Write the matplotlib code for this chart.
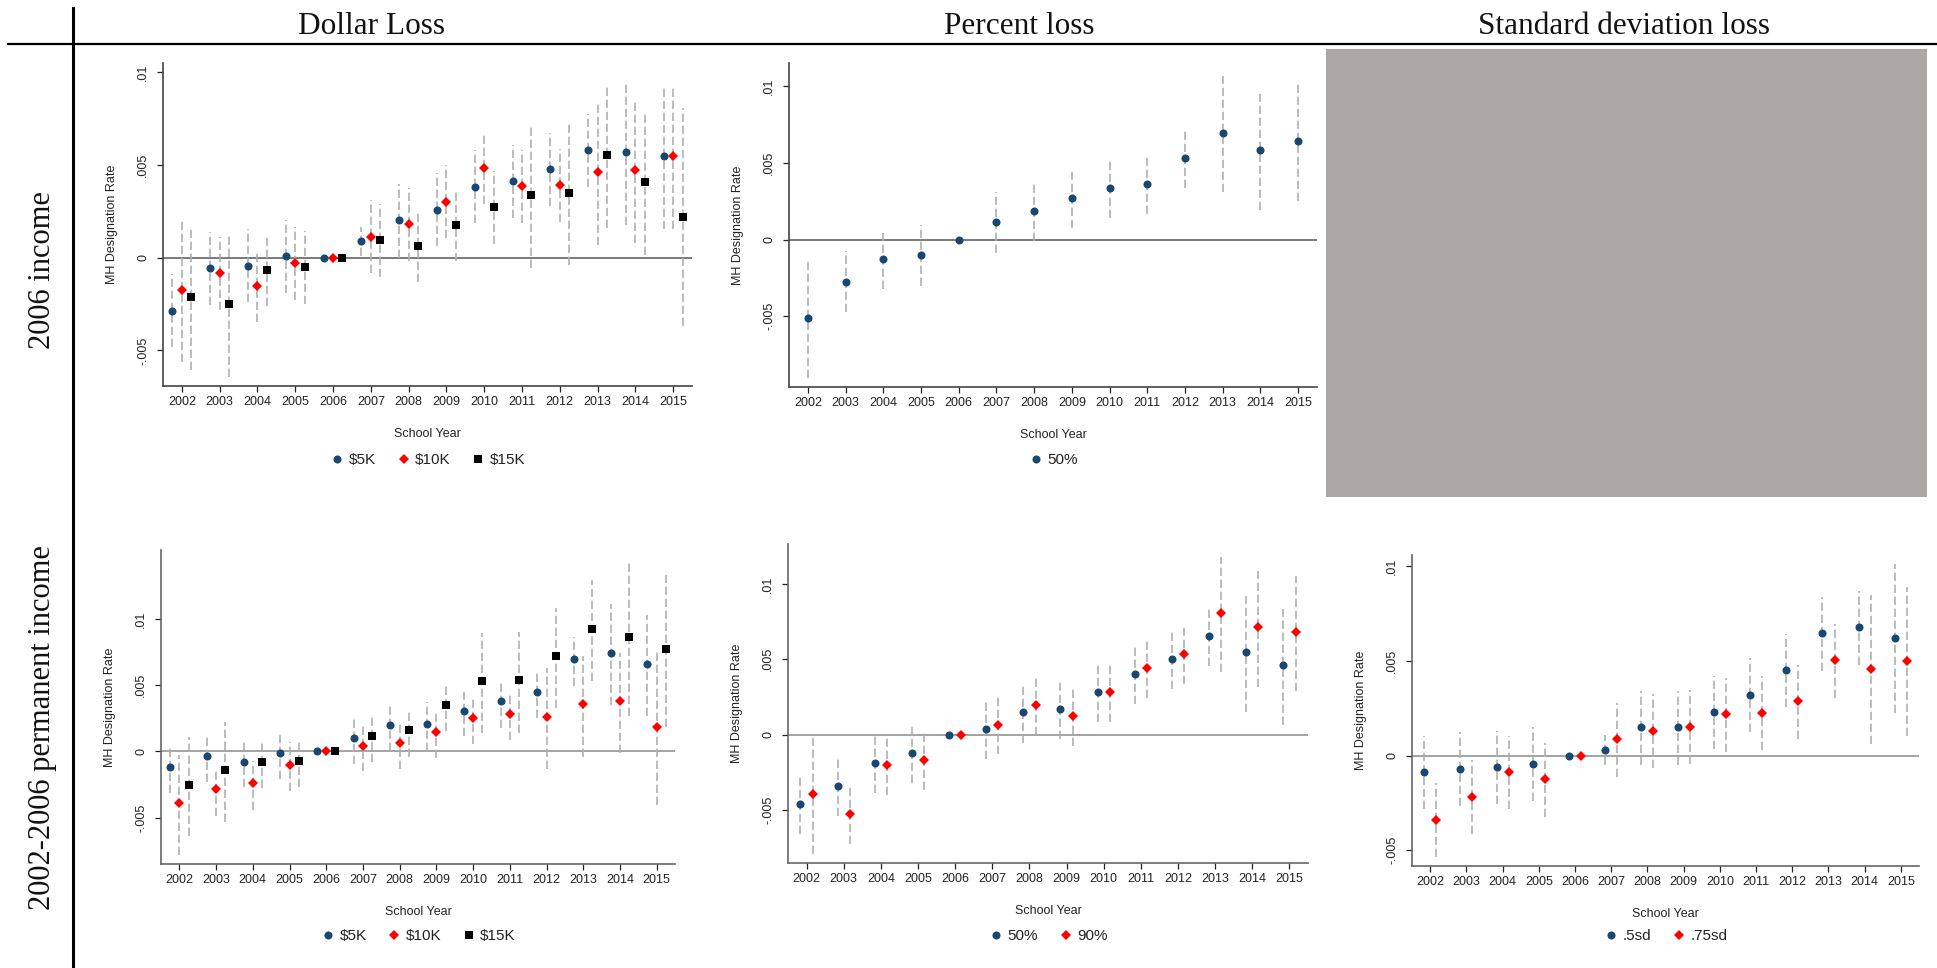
import matplotlib
matplotlib.use("Agg")
import matplotlib.pyplot as plt
from matplotlib.lines import Line2D
import numpy as np

years = list(range(2002, 2016))
year_labels = [str(y) for y in years]
ytick_vals = [-0.005, 0, 0.005, 0.01]
ytick_labels = ["-.005", "0", ".005", ".01"]

col_titles = ["Dollar Loss", "Percent loss", "Standard deviation loss"]
row_titles = ["2006 income", "2002-2006 permanent income"]

# Panel A: 2006 income, dollar loss
a_5k = [-0.00288, -0.00056, -0.00043, 0.00007, 0, 0.0009, 0.00201, 0.00259, 0.00383, 0.00412, 0.00478, 0.00579, 0.00568, 0.00549]
a_5k_lo = [-0.00484, -0.00255, -0.0024, -0.0019, 0, 0.0001, 0.0, 0.00061, 0.00187, 0.00216, 0.00281, 0.00383, 0.00176, 0.00155]
a_5k_hi = [-0.0009, 0.0014, 0.00155, 0.00205, 0, 0.00167, 0.00397, 0.00457, 0.00581, 0.00608, 0.00673, 0.00775, 0.00951, 0.00932]
a_10k = [-0.00173, -0.00083, -0.00155, -0.00031, 0, 0.00113, 0.0018, 0.00302, 0.00486, 0.00387, 0.0039, 0.00462, 0.00473, 0.00549]
a_10k_lo = [-0.00565, -0.0028, -0.00349, -0.00227, 0, -0.00083, -0.00016, 0.00106, 0.0029, 0.00189, 0.00192, 0.0007, 0.00081, 0.00155]
a_10k_hi = [0.00209, 0.0011, 0.00041, 0.00164, 0, 0.00311, 0.00376, 0.005, 0.0068, 0.00583, 0.00586, 0.00845, 0.00856, 0.00932]
a_15k = [-0.00214, -0.00252, -0.00067, -0.00052, 0, 0.00094, 0.00061, 0.00176, 0.00272, 0.00336, 0.00351, 0.00554, 0.00408, 0.00218]
a_15k_lo = [-0.00604, -0.00644, -0.00263, -0.00248, 0, -0.00104, -0.00133, -0.0002, 0.00074, -0.00058, -0.0004, 0.00162, 0.00016, -0.00367]
a_15k_hi = [0.00169, 0.00133, 0.00128, 0.00144, 0, 0.0029, 0.00255, 0.00371, 0.00468, 0.00716, 0.00734, 0.00939, 0.00791, 0.00806]

# Panel B: 2006 income, percent loss
b_50 = [-0.00509, -0.00274, -0.00126, -0.00104, 0, 0.00111, 0.00185, 0.0027, 0.00337, 0.00359, 0.00528, 0.00696, 0.0058, 0.00643]
b_50_lo = [-0.009, -0.0047, -0.0032, -0.00302, 0, -0.00085, -0.0001, 0.00072, 0.00141, 0.00163, 0.00333, 0.00307, 0.00189, 0.00252]
b_50_hi = [-0.00135, -0.00076, 0.00067, 0.00093, 0, 0.00307, 0.0038, 0.00465, 0.00533, 0.00554, 0.00724, 0.01065, 0.0095, 0.01015]

# Panel C: permanent income, dollar loss
c_5k = [-0.00118, -0.00033, -0.00078, -0.00008, 0, 0.00098, 0.00201, 0.00206, 0.00309, 0.00377, 0.0045, 0.00696, 0.00746, 0.00663]
c_5k_lo = [-0.00314, -0.00229, -0.00271, -0.00204, 0, -0.00098, 0.00005, 0.00005, 0.00113, 0.00176, 0.00251, 0.00497, 0.00354, 0.00269]
c_5k_hi = [0.00043, 0.00133, 0.00088, 0.00158, 0, 0.00264, 0.00369, 0.00372, 0.00475, 0.0054, 0.00616, 0.00862, 0.01111, 0.0103]
c_10k = [-0.00389, -0.00286, -0.00241, -0.001, 0, 0.00043, 0.00063, 0.00146, 0.00251, 0.00281, 0.00261, 0.00359, 0.00382, 0.00188]
c_10k_lo = [-0.00779, -0.00485, -0.0044, -0.00296, 0, -0.00151, -0.00133, -0.00053, 0.00053, 0.00083, -0.00131, -0.00038, -0.00008, -0.00402]
c_10k_hi = [-0.00025, -0.00121, -0.00075, 0.00068, 0, 0.00209, 0.00229, 0.00312, 0.00417, 0.00445, 0.00626, 0.00721, 0.00746, 0.00749]
c_15k = [-0.00254, -0.00138, -0.0008, -0.00073, 0, 0.00113, 0.00161, 0.00349, 0.00533, 0.00538, 0.00719, 0.00927, 0.00862, 0.00771]
c_15k_lo = [-0.00641, -0.00533, -0.00279, -0.00271, 0, -0.00083, -0.00038, 0.00153, 0.00143, 0.00143, 0.00327, 0.00535, 0.00271, 0.00181]
c_15k_hi = [0.00108, 0.00224, 0.00083, 0.0009, 0, 0.00276, 0.00324, 0.00515, 0.00897, 0.009, 0.01083, 0.01291, 0.01425, 0.01332]

# Panel D: permanent income, percent loss
d_50 = [-0.00457, -0.0034, -0.00188, -0.00121, 0, 0.00037, 0.00148, 0.00172, 0.00282, 0.00404, 0.00499, 0.00655, 0.00549, 0.00461]
d_50_lo = [-0.00655, -0.00536, -0.00386, -0.0032, 0, -0.00161, -0.00051, -0.00026, 0.00084, 0.00205, 0.00302, 0.00457, 0.00154, 0.00066]
d_50_hi = [-0.0026, -0.00143, 0.0, 0.00077, 0, 0.00232, 0.00342, 0.00368, 0.00479, 0.006, 0.00695, 0.00849, 0.0092, 0.00832]
d_90 = [-0.00395, -0.00527, -0.00201, -0.0017, 0, 0.00068, 0.00196, 0.00124, 0.00285, 0.00443, 0.00534, 0.0081, 0.00715, 0.00684]
d_90_lo = [-0.00788, -0.00724, -0.00399, -0.00368, 0, -0.0013, 0.0, -0.00073, 0.00086, 0.00247, 0.00337, 0.00417, 0.0032, 0.00289]
d_90_hi = [-0.00022, -0.00331, -0.00004, 0.00026, 0, 0.00265, 0.0039, 0.0032, 0.00481, 0.0064, 0.0073, 0.0118, 0.01085, 0.01052]

# Panel E: permanent income, standard deviation loss
e_05 = [-0.00088, -0.00069, -0.0006, -0.00042, 0, 0.00032, 0.0015, 0.0015, 0.00231, 0.0032, 0.00452, 0.00646, 0.0068, 0.0062]
e_05_lo = [-0.00283, -0.00264, -0.00255, -0.00238, 0, -0.00048, -0.00048, -0.00048, 0.00035, 0.00125, 0.00255, 0.00449, 0.00481, 0.00227]
e_05_hi = [0.00104, 0.00127, 0.00132, 0.0015, 0, 0.00109, 0.00342, 0.00342, 0.00423, 0.00514, 0.00644, 0.0084, 0.00871, 0.01014]
e_075 = [-0.00338, -0.00218, -0.00086, -0.00125, 0, 0.00086, 0.00132, 0.00153, 0.00218, 0.00227, 0.00287, 0.00504, 0.00456, 0.00498]
e_075_lo = [-0.00533, -0.00414, -0.0028, -0.00322, 0, -0.00111, -0.00063, -0.00044, 0.00021, 0.0003, 0.00088, 0.00306, 0.00063, 0.00104]
e_075_hi = [-0.00144, -0.00025, 0.00106, 0.00069, 0, 0.0028, 0.00326, 0.00347, 0.0041, 0.00421, 0.00479, 0.00695, 0.00849, 0.00891]

NAVY = "#1a476f"
RED = "#ff0000"
BLACK = "#000000"
CI_COL = "#b0b0b0"

W, H = 1937, 968
fig = plt.figure(figsize=(W / 100, H / 100), dpi=100)
fig.patch.set_facecolor("white")

SANS = ["Liberation Sans", "DejaVu Sans"]
SERIF = ["Liberation Serif", "DejaVu Serif"]


def px_axes(x0, y0, x1, y1):
    return fig.add_axes([x0 / W, 1 - y1 / H, (x1 - x0) / W, (y1 - y0) / H])


def style_series(key):
    return {
        "o": dict(marker="o", color=NAVY, ms=5.8),
        "D": dict(marker="D", color=RED, ms=5.0),
        "s": dict(marker="s", color=BLACK, ms=5.6),
    }[key]


def panel(box, ylim, series, offsets, leg_y, zero_col, spine_col):
    ax = px_axes(*box)
    ax.set_xlim(2001.5, 2015.5)
    ax.set_ylim(*ylim)
    ax.axhline(0, color=zero_col, lw=1.1, zorder=1)
    handles = []
    for (vals, lo, hi, mk, lab), off in zip(series, offsets):
        xs = np.array(years) + off
        for x, l, h in zip(xs, lo, hi):
            if h != l:
                ax.plot([x, x], [l, h], color=CI_COL, lw=1.2,
                        linestyle=(0, (5, 2.2)), zorder=2)
        st = style_series(mk)
        ax.plot(xs, vals, linestyle="none", marker=st["marker"],
                color=st["color"], markersize=st["ms"],
                markeredgewidth=0, zorder=3)
        handles.append(Line2D([], [], linestyle="none", marker=st["marker"],
                              color=st["color"], markersize=st["ms"],
                              markeredgewidth=0, label=lab))
    ax.set_xticks(years)
    ax.set_xticklabels(year_labels, fontsize=9, family=SANS)
    ax.set_yticks(ytick_vals)
    ax.set_yticklabels(ytick_labels, fontsize=9, family=SANS,
                       rotation=90, va="center")
    ax.tick_params(axis="y", length=4, width=0.9, pad=6, colors="#222222")
    ax.tick_params(axis="x", length=4, width=0.9, pad=3.5, colors="#222222")
    for s in ["top", "right"]:
        ax.spines[s].set_visible(False)
    for s in ["left", "bottom"]:
        ax.spines[s].set_color(spine_col)
        ax.spines[s].set_linewidth(1.2)
    ax.set_xlabel("School Year", fontsize=9, family=SANS, labelpad=14,
                  color="#222222")
    ax.set_ylabel("MH Designation Rate", fontsize=9, family=SANS,
                  labelpad=14, color="#222222")
    cx = (box[0] + box[2]) / 2 / W
    leg = fig.legend(handles=handles, loc="center",
                     bbox_to_anchor=(cx, 1 - leg_y / H), ncol=len(handles),
                     frameon=False, handletextpad=0.25, columnspacing=1.3,
                     handlelength=1.0, prop={"family": SANS, "size": 11})
    for t in leg.get_texts():
        t.set_color("#222222")
    return ax


# Top row
panel((163, 63, 692, 386), (-0.00692, 0.0105),
      [(a_5k, a_5k_lo, a_5k_hi, "o", "$5K"),
       (a_10k, a_10k_lo, a_10k_hi, "D", "$10K"),
       (a_15k, a_15k_lo, a_15k_hi, "s", "$15K")],
      [-0.25, 0.0, 0.25], 460, "#555555", "#444444")

panel((789, 63, 1317, 387), (-0.00961, 0.0115),
      [(b_50, b_50_lo, b_50_hi, "o", "50%")],
      [0.0], 460, "#555555", "#444444")

# Grey placeholder panel
grey = fig.add_axes([1326 / W, 1 - 497 / H, (1927 - 1326) / W, (497 - 49) / H])
grey.set_facecolor("#aba7a5")
grey.set_xticks([])
grey.set_yticks([])
for s in grey.spines.values():
    s.set_visible(False)

# Bottom row
panel((161, 550, 675, 864), (-0.00849, 0.0152),
      [(c_5k, c_5k_lo, c_5k_hi, "o", "$5K"),
       (c_10k, c_10k_lo, c_10k_hi, "D", "$10K"),
       (c_15k, c_15k_lo, c_15k_hi, "s", "$15K")],
      [-0.25, 0.0, 0.25], 936, "#8a8a8a", "#666666")

panel((788, 544, 1308, 863), (-0.00849, 0.01264),
      [(d_50, d_50_lo, d_50_hi, "o", "50%"),
       (d_90, d_90_lo, d_90_hi, "D", "90%")],
      [-1 / 6, 1 / 6], 936, "#8a8a8a", "#666666")

panel((1412, 555, 1919, 866), (-0.00583, 0.0106),
      [(e_05, e_05_lo, e_05_hi, "o", ".5sd"),
       (e_075, e_075_lo, e_075_hi, "D", ".75sd")],
      [-1 / 6, 1 / 6], 936, "#8a8a8a", "#666666")

# Table frame lines and headers
fig.add_artist(Line2D([73 / W, 73 / W], [1 - 8 / H, 0], color="black", lw=2.2))
fig.add_artist(Line2D([8 / W, 1], [1 - 44 / H, 1 - 44 / H], color="black", lw=1.6))

for title, cx in zip(col_titles, [371, 1019, 1624]):
    fig.text(cx / W, 1 - 27 / H, title, ha="center", va="center",
             fontsize=22.5, family=SERIF, color="#111111")

for title, cy in zip(row_titles, [270, 728]):
    fig.text(43 / W, 1 - cy / H, title, ha="center", va="center",
             rotation=90, fontsize=22, family=SERIF, color="#111111")

fig.savefig("out.png", dpi=100, facecolor="white")
